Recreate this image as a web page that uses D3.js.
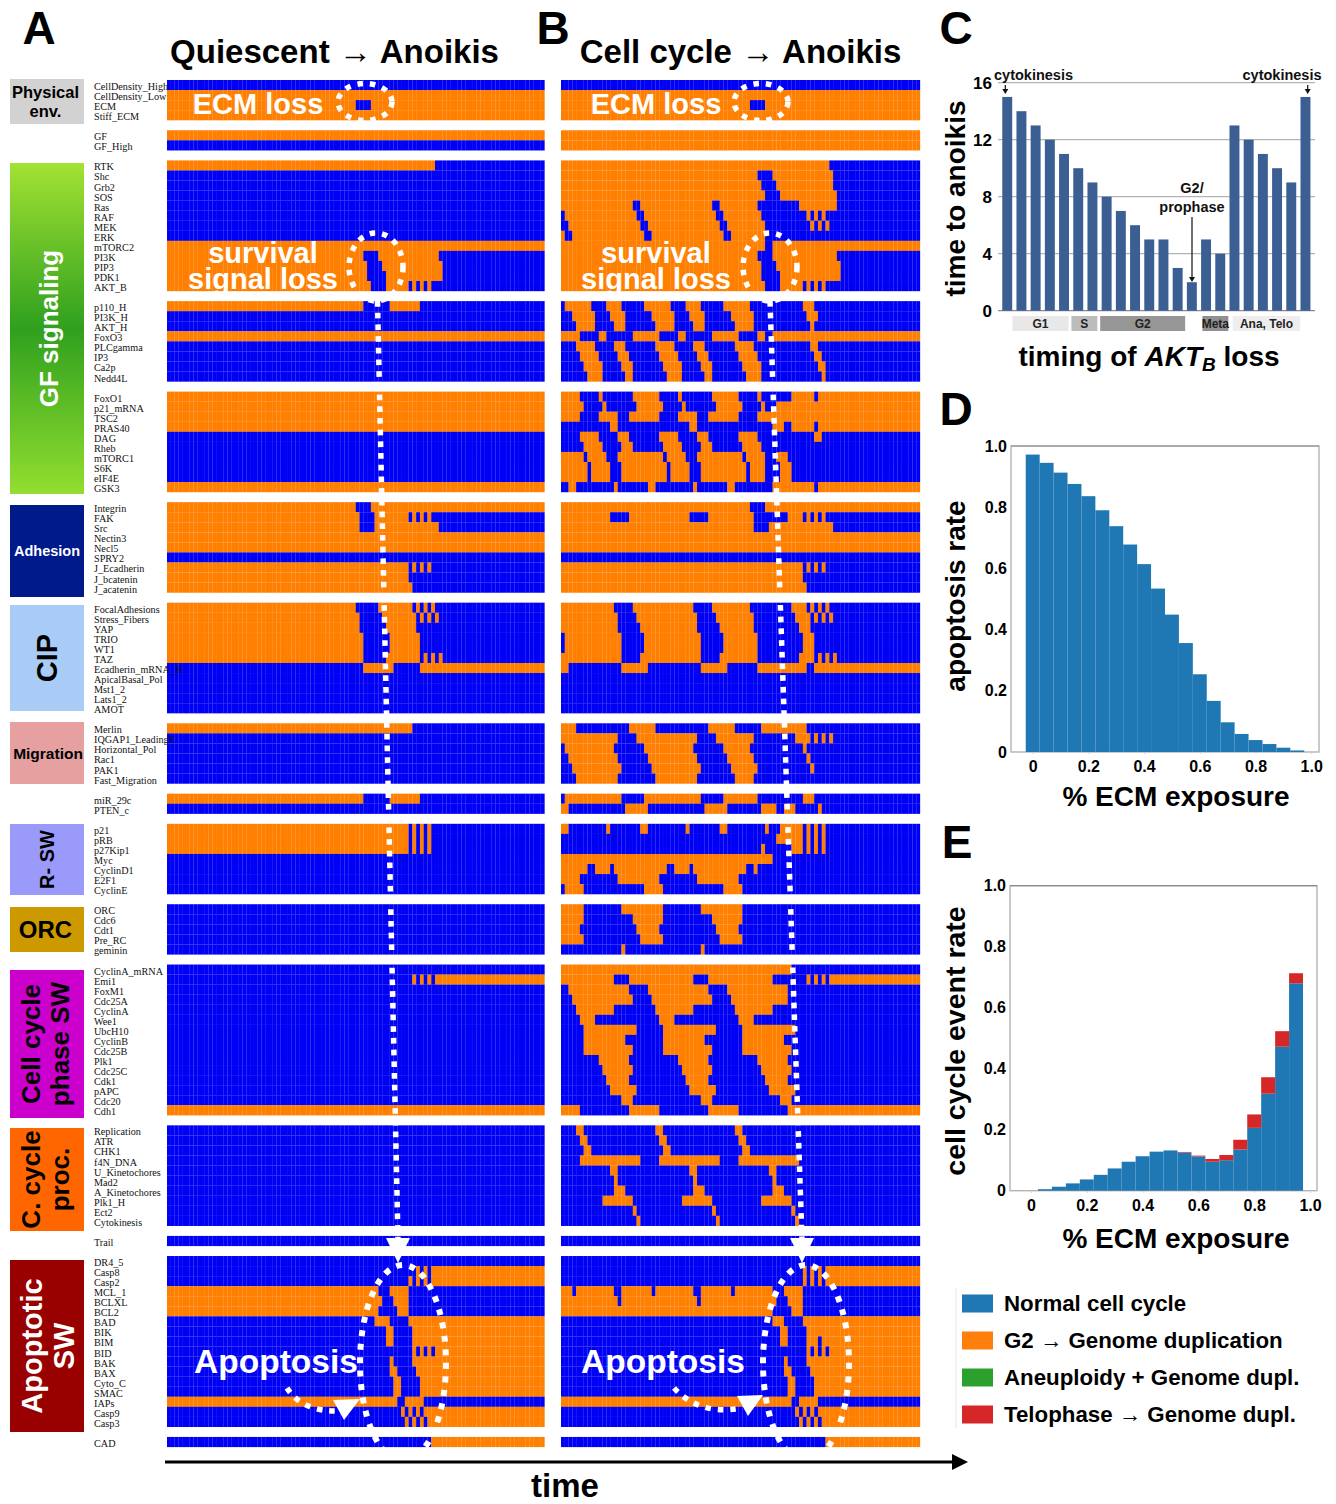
<!DOCTYPE html>
<html>
<head>
<meta charset="utf-8">
<script src="https://cdn.jsdelivr.net/npm/d3@7"></script>
<style>
  html, body { margin: 0; background: #fff; }
  text { font-family: "Liberation Sans", Arial, sans-serif; }
  .node { font-family: "Liberation Serif", serif; font-size: 10.2px; fill: #111; }
  .heavy { font-weight: bold; }
  .tick text { font-family: "Liberation Sans", sans-serif; font-weight: bold; }
</style>
</head>
<body>
<div id="chart"></div>
<script>
// node names, one list per heatmap block
const physicalNodes = ['CellDensity_High', 'CellDensity_Low', 'ECM', 'Stiff_ECM'];
const gfNodes = ['GF', 'GF_High'];
const rtkNodes = ['RTK', 'Shc', 'Grb2', 'SOS', 'Ras', 'RAF', 'MEK', 'ERK', 'mTORC2', 'PI3K', 'PIP3', 'PDK1', 'AKT_B'];
const hNodes = ['p110_H', 'PI3K_H', 'AKT_H', 'FoxO3', 'PLCgamma', 'IP3', 'Ca2p', 'Nedd4L'];
const foxNodes = ['FoxO1', 'p21_mRNA', 'TSC2', 'PRAS40', 'DAG', 'Rheb', 'mTORC1', 'S6K', 'eIF4E', 'GSK3'];
const adhesionNodes = ['Integrin', 'FAK', 'Src', 'Nectin3', 'Necl5', 'SPRY2', 'J_Ecadherin', 'J_bcatenin', 'J_acatenin'];
const cipNodes = ['FocalAdhesions', 'Stress_Fibers', 'YAP', 'TRIO', 'WT1', 'TAZ', 'Ecadherin_mRNA_H', 'ApicalBasal_Pol', 'Mst1_2', 'Lats1_2', 'AMOT'];
const migrationNodes = ['Merlin', 'IQGAP1_LeadingE', 'Horizontal_Pol', 'Rac1', 'PAK1', 'Fast_Migration'];
const mirNodes = ['miR_29c', 'PTEN_c'];
const rNodes = ['p21', 'pRB', 'p27Kip1', 'Myc', 'CyclinD1', 'E2F1', 'CyclinE'];
const orcNodes = ['ORC', 'Cdc6', 'Cdt1', 'Pre_RC', 'geminin'];
const cycleNodes = ['CyclinA_mRNA', 'Emi1', 'FoxM1', 'Cdc25A', 'CyclinA', 'Wee1', 'UbcH10', 'CyclinB', 'Cdc25B', 'Plk1', 'Cdc25C', 'Cdk1', 'pAPC', 'Cdc20', 'Cdh1'];
const procNodes = ['Replication', 'ATR', 'CHK1', 'f4N_DNA', 'U_Kinetochores', 'Mad2', 'A_Kinetochores', 'Plk1_H', 'Ect2', 'Cytokinesis'];
const trailNodes = ['Trail'];
const apoptoticNodes = ['DR4_5', 'Casp8', 'Casp2', 'MCL_1', 'BCLXL', 'BCL2', 'BAD', 'BIK', 'BIM', 'BID', 'BAK', 'BAX', 'Cyto_C', 'SMAC', 'IAPs', 'Casp9', 'Casp3'];
const cadNodes = ['CAD'];
const nodeBlocks = [physicalNodes, gfNodes, rtkNodes, hNodes, foxNodes, adhesionNodes, cipNodes, migrationNodes, mirNodes, rNodes, orcNodes, cycleNodes, procNodes, trailNodes, apoptoticNodes, cadNodes];

// ON (orange) runs per node as start,end,start,end... in time steps, empty = OFF the whole time
const A = [0, 100];
const aPhysical = [[], A, [0, 50, 54, 100], A];
const aGf = [A, []];
const aRtk = [[0, 71], [], [], [], [], [], [], [], A, [0, 52, 56, 72], [0, 53, 57, 73], [0, 53, 58, 73], [0, 54, 58, 64, 65, 66, 67, 68, 69, 70]];
const aH = [[0, 52, 59, 67], [], [], A, [], [], [], []];
const aFox = [A, A, A, A, [], [], [], [], [], A];
const aAdhesion = [[0, 50, 54, 100], [0, 51, 55, 64, 65, 66, 67, 68, 69, 70], [0, 51, 55, 72], A, A, [], [0, 64, 65, 66, 67, 68, 69, 70], [0, 64], [0, 65]];
const aCip = [[0, 50, 56, 65, 66, 67, 68, 69, 70, 71], [0, 51, 57, 66, 67, 68, 69, 70, 71, 72], [0, 51, 58, 66], [0, 52, 59, 67], [0, 52, 59, 67], [0, 52, 58, 67, 68, 69, 70, 71, 72, 73], [52, 60, 67, 100], [], [], [], []];
const aMigration = [[0, 65], [], [], [], [], []];
const aMir = [[0, 52, 59, 67], []];
const aR = [[0, 64, 65, 66, 67, 68, 69, 70], [0, 64, 65, 66, 67, 68, 69, 70], [0, 64, 65, 66, 67, 68, 69, 70], [], [], [], []];
const aOrc = [[], [], [], [], []];
const aCycle = [[], [65, 66, 67, 68, 69, 70, 71, 100], [], [], [], [], [], [], [], [], [], [], [], [], A];
const aProc = [[], [], [], [], [], [], [], [], [], []];
const aTrail = [[]];
const aApoptotic = [[], [66, 67, 68, 69, 70, 100], [64, 65, 66, 67, 68, 69, 70, 100], [0, 56, 59, 64], [0, 57, 60, 64], [0, 56, 61, 64], [55, 59, 64, 100], [58, 60, 65, 100], [58, 60, 65, 100], [65, 66, 67, 68, 69, 70, 71, 100], [59, 60, 65, 100], [59, 61, 66, 100], [60, 62, 67, 100], [60, 62, 67, 100], [0, 61, 63, 68], [62, 63, 64, 65, 66, 67, 68, 100], [63, 64, 65, 66, 67, 68, 69, 100]];
const aCad = [[70, 100]];
const panelARows = [aPhysical, aGf, aRtk, aH, aFox, aAdhesion, aCip, aMigration, aMir, aR, aOrc, aCycle, aProc, aTrail, aApoptotic, aCad];

const B = [0, 95];
const bPhysical = [[], B, [0, 50, 54, 95], B];
const bGf = [B, B];
const bRtk = [[0, 71], [0, 52, 56, 72], [0, 53, 57, 72], [0, 54, 58, 73], [0, 19, 21, 40, 42, 52, 63, 73], [1, 20, 22, 41, 43, 53, 65, 66, 67, 68, 69, 70], [2, 21, 23, 42, 44, 54, 66, 67, 68, 69, 70, 71], [0, 1, 3, 22, 24, 43, 45, 54], [0, 54, 56, 95], [0, 52, 56, 73], [0, 53, 57, 74], [0, 53, 58, 74], [0, 54, 58, 64, 65, 66, 67, 68, 69, 70]];
const bH = [
  [1, 8, 12, 16, 22, 29, 33, 37, 43, 50, 64, 67],
  [3, 9, 13, 17, 24, 30, 34, 38, 45, 51, 65, 68],
  [4, 9, 14, 17, 25, 30, 35, 38, 46, 51, 66, 67],
  [0, 5, 10, 12, 19, 26, 31, 33, 40, 47, 52, 54, 56, 95],
  [4, 9, 14, 17, 25, 30, 35, 38, 46, 51, 66, 68],
  [5, 10, 15, 18, 26, 31, 36, 39, 47, 52, 67, 69],
  [6, 11, 16, 19, 27, 32, 37, 40, 48, 53, 68, 70],
  [7, 11, 17, 19, 28, 32, 38, 40, 49, 53, 69, 70]];
const bFox = [
  [0, 5, 10, 11, 19, 26, 31, 32, 40, 47, 52, 53, 61, 67, 68, 95],
  [0, 6, 11, 12, 20, 27, 32, 33, 41, 48, 53, 54, 57, 95],
  [0, 5, 10, 15, 18, 26, 31, 36, 39, 47, 52, 95],
  [13, 15, 34, 36, 56, 59, 61, 67, 68, 95],
  [5, 10, 15, 18, 26, 31, 36, 39, 47, 52, 67, 69],
  [6, 11, 16, 19, 27, 32, 37, 40, 48, 53],
  [0, 6, 7, 12, 15, 27, 28, 33, 36, 48, 49, 54, 57, 60],
  [0, 7, 8, 13, 16, 28, 29, 34, 37, 49, 50, 54, 58, 61],
  [0, 7, 8, 13, 16, 28, 29, 34, 37, 49, 50, 54, 58, 61],
  [2, 4, 14, 15, 23, 25, 35, 36, 44, 46, 56, 67, 68, 95]];
const bAdhesion = [[0, 50, 54, 95], [0, 13, 18, 34, 39, 51, 60, 64, 65, 66, 67, 68, 69, 70], [0, 51, 55, 72], B, B, [], [0, 64, 65, 66, 67, 68, 69, 70], [0, 64], [0, 65]];
const bCip = [
  [0, 14, 19, 35, 40, 50, 61, 65, 66, 67, 68, 69, 70, 71],
  [0, 15, 20, 36, 41, 51, 62, 66, 67, 68, 69, 70, 71, 72],
  [0, 15, 21, 36, 42, 51, 63, 66],
  [1, 16, 22, 37, 43, 52, 64, 67],
  [1, 16, 22, 37, 43, 52, 64, 67],
  [0, 16, 21, 37, 42, 52, 63, 67, 68, 69, 70, 71, 72, 73],
  [0, 2, 16, 23, 37, 44, 52, 65, 67, 95],
  [], [], [], []];
const bMigration = [
  [0, 4, 18, 25, 39, 46, 53, 65],
  [0, 15, 20, 36, 41, 51, 62, 66, 67, 68, 69, 70, 71, 72],
  [1, 14, 22, 35, 43, 50, 64, 65],
  [2, 15, 23, 36, 44, 51, 65, 66],
  [3, 16, 24, 37, 45, 52, 66, 67],
  [4, 15, 25, 36, 46, 51]];
const bMir = [[1, 16, 22, 37, 43, 52, 64, 67], [0, 2, 17, 23, 38, 44, 53, 57, 59, 62, 68, 69]];
const bR = [
  [0, 2, 12, 13, 21, 23, 33, 34, 42, 44, 54, 55, 58, 64, 65, 66, 67, 68, 69, 70],
  [57, 64, 65, 66, 67, 68, 69, 70],
  [53, 54, 61, 64, 65, 66, 67, 68, 69, 70],
  [0, 56],
  [0, 7, 9, 13, 14, 28, 30, 34, 35, 49, 51, 52],
  [0, 5, 15, 26, 36, 47],
  [1, 6, 22, 27, 43, 48]];
const bOrc = [[0, 6, 16, 27, 37, 48], [0, 6, 19, 27, 40, 48], [0, 5, 20, 26, 41, 47], [0, 6, 21, 27, 42, 48], [16, 17, 37, 38]];
const bCycle = [
  [0, 61],
  [0, 14, 18, 35, 39, 56, 65, 66, 67, 68, 69, 70, 71, 95],
  [2, 18, 23, 39, 44, 60],
  [3, 19, 24, 40, 45, 60],
  [4, 14, 25, 35, 46, 56],
  [5, 9, 26, 30, 47, 51],
  [6, 20, 27, 41, 48, 62],
  [6, 17, 27, 38, 48, 59],
  [6, 19, 27, 40, 48, 61],
  [10, 18, 31, 39, 52, 60],
  [11, 19, 32, 40, 53, 61],
  [12, 18, 33, 39, 54, 60],
  [13, 20, 34, 41, 55, 62],
  [16, 19, 37, 40, 58, 61],
  [0, 5, 18, 26, 39, 47, 60, 95]];
const bProc = [
  [4, 6, 25, 27, 46, 48],
  [5, 7, 26, 28, 47, 49],
  [6, 8, 27, 29, 48, 50],
  [5, 21, 26, 42, 47, 63],
  [13, 15, 34, 36, 55, 57],
  [14, 15, 35, 36, 56, 57],
  [14, 17, 35, 38, 56, 59],
  [11, 19, 32, 40, 53, 61],
  [19, 20, 40, 41, 61, 62],
  [20, 21, 41, 42, 62, 63]];
const bTrail = [[]];
const bApoptotic = [
  [],
  [64, 65, 66, 67, 68, 69, 70, 95],
  [64, 65, 66, 67, 68, 69, 70, 95],
  [0, 3, 4, 14, 16, 24, 25, 35, 37, 45, 46, 56, 59, 64],
  [0, 15, 16, 36, 37, 57, 60, 64],
  [0, 56, 61, 64],
  [56, 59, 64, 95],
  [58, 60, 65, 95],
  [58, 60, 65, 68, 69, 95],
  [65, 66, 67, 68, 69, 70, 71, 95],
  [59, 60, 65, 95],
  [59, 61, 66, 95],
  [60, 62, 67, 95],
  [60, 62, 67, 95],
  [0, 61, 63, 68],
  [62, 63, 64, 65, 66, 67, 68, 95],
  [63, 64, 65, 66, 67, 68, 69, 95]];
const bCad = [[70, 95]];
const panelBRows = [bPhysical, bGf, bRtk, bH, bFox, bAdhesion, bCip, bMigration, bMir, bR, bOrc, bCycle, bProc, bTrail, bApoptotic, bCad];

// panel C
const aktValues = [15, 14, 13, 12, 11, 10, 9, 8, 7, 6, 5, 5, 3, 2, 5, 4, 13, 12, 11, 10, 9, 15];
const aktTicks = [0, 4, 8, 12, 16];
const phaseNames = ['G1', 'S', 'G2', 'Meta', 'Ana, Telo'];
const phaseFrom = [1, 5.1, 7.1, 14.2, 16.3];
const phaseTo = [4.9, 6.9, 13, 16, 21];
const phaseFill = ['#e8e8e8', '#bcbcbc', '#969696', '#909090', '#eeeeee'];

// panels D and E share the ECM bins
const ecmBins = [0, .05, .1, .15, .2, .25, .3, .35, .4, .45, .5, .55, .6, .65, .7, .75, .8, .85, .9, .95];
const apoptosisRate = [.972, .945, .913, .876, .836, .79, .738, .678, .614, .534, .449, .356, .254, .167, .097, .059, .039, .026, .014, .005];
const normalCycleRate = [0, .005, .013, .024, .037, .052, .073, .095, .113, .128, .132, .125, .112, .095, .1, .135, .206, .318, .472, .68];
const telophaseRate = [0, 0, 0, 0, 0, 0, 0, 0, 0, 0, 0, .002, .003, .009, .017, .032, .044, .054, .051, .033];
const ecmTicks = [0, .2, .4, .6, .8, 1];
const rateTicks = [0, .2, .4, .6, .8, 1];

const legendLabels = ['Normal cell cycle', 'G2 \u2192 Genome duplication', 'Aneuploidy + Genome dupl.', 'Telophase \u2192 Genome dupl.'];
const legendColors = ['#1f77b4', '#ff7f0e', '#2ca02c', '#d62728'];

const w = 1336;
const h = 1504;
const offColor = '#0000f5';
const onColor = '#ff7f00';
const svg = d3.select('#chart').append('svg').attr('width', w).attr('height', h).style('display', 'block');

// one shared row scale, a blank row between blocks
const rowKeys = [];
nodeBlocks.forEach((nodes, b) => {
    nodes.forEach(n => rowKeys.push(b + ':' + n));
    if (b < nodeBlocks.length - 1) rowKeys.push('gap' + b);
});
const yRow = d3.scaleBand().domain(rowKeys).range([80, 1447]);

const defs = svg.append('defs');
const gfGrad = defs.append('linearGradient').attr('id', 'gfGrad').attr('x1', 0).attr('x2', 0).attr('y1', 0).attr('y2', 1);
gfGrad.append('stop').attr('offset', '0%').attr('stop-color', '#a3e233');
gfGrad.append('stop').attr('offset', '50%').attr('stop-color', '#2fa01e');
gfGrad.append('stop').attr('offset', '100%').attr('stop-color', '#93de30');

function drawHeatmap(rowsByBlock, steps, x0, x1) {
    const xStep = d3.scaleBand().domain(d3.range(steps)).range([x0, x1]);
    const cells = [];
    nodeBlocks.forEach((nodes, b) => {
        nodes.forEach((n, r) => {
            const runs = rowsByBlock[b][r];
            for (let t = 0; t < steps; t++) {
                let on = false;
                for (let k = 0; k < runs.length; k += 2) {
                    if (t >= runs[k] && t < runs[k + 1]) on = true;
                }
                cells.push({ key: b + ':' + n, t: t, on: on });
            }
        });
    });
    // a hair wider than the band, so the seams between cells stay faint
    svg.append('g').selectAll('rect')
        .data(cells)
        .enter()
        .append('rect')
        .attr('x', d => xStep(d.t))
        .attr('y', d => yRow(d.key))
        .attr('width', xStep.bandwidth() + .15)
        .attr('height', yRow.bandwidth() + .1)
        .attr('fill', d => d.on ? onColor : offColor);
}
drawHeatmap(panelARows, 100, 167, 544.5);
drawHeatmap(panelBRows, 95, 561, 920);

// node labels
nodeBlocks.forEach((nodes, b) => {
    svg.append('g').selectAll('text')
        .data(nodes)
        .enter()
        .append('text')
        .attr('class', 'node')
        .attr('x', 94)
        .attr('y', n => yRow(b + ':' + n) + yRow.bandwidth() / 2 + 5)
        .text(n => n);
});

// category boxes on the far left
const catBoxes = [
    { y0: 79, y1: 124, fill: '#d2d2d2', color: '#000', size: 16.5, cx: 45.5, lines: ['Physical', 'env.'] },
    { y0: 163, y1: 494, fill: 'url(#gfGrad)', color: '#fff', size: 26, cx: 49, lines: ['GF signaling'], rot: true },
    { y0: 505, y1: 597, fill: '#001a8c', color: '#fff', size: 14.5, cx: 47, lines: ['Adhesion'] },
    { y0: 605, y1: 711, fill: '#a8ccf5', color: '#000', size: 29, cx: 47, lines: ['CIP'], rot: true },
    { y0: 722, y1: 784, fill: '#e6a0a0', color: '#000', size: 15.5, cx: 48, lines: ['Migration'] },
    { y0: 824, y1: 895, fill: '#9a9afa', color: '#000', size: 20, cx: 47, lines: ['R- SW'], rot: true },
    { y0: 907, y1: 952, fill: '#cc9900', color: '#000', size: 24, cx: 45.5, lines: ['ORC'] },
    { y0: 970, y1: 1118, fill: '#cc00cc', color: '#000', size: 26, cx: 45.5, lines: ['Cell cycle', 'phase SW'], rot: true },
    { y0: 1128, y1: 1231, fill: '#ff6600', color: '#000', size: 26, cx: 45.5, lines: ['C. cycle', 'proc.'], rot: true },
    { y0: 1260, y1: 1432, fill: '#990000', color: '#fff', size: 29, cx: 47.5, lines: ['Apoptotic', 'SW'], rot: true }
];
catBoxes.forEach(c => {
    svg.append('rect').attr('x', 10).attr('y', c.y0).attr('width', 74).attr('height', c.y1 - c.y0).attr('fill', c.fill);
    const g = svg.append('g').attr('transform', 'translate(' + c.cx + ',' + (c.y0 + c.y1) / 2 + ')' + (c.rot ? ' rotate(-90)' : ''));
    const lh = c.size * 1.12;
    c.lines.forEach((l, i) => {
        g.append('text')
            .attr('class', 'heavy')
            .attr('text-anchor', 'middle')
            .attr('y', (i - (c.lines.length - 1) / 2) * lh + c.size * .36)
            .attr('font-size', c.size)
            .attr('fill', c.color)
            .text(l);
    });
});

function label(x, y, str, size, color, anchor) {
    return svg.append('text')
        .attr('class', 'heavy')
        .attr('x', x).attr('y', y)
        .attr('font-size', size)
        .attr('fill', color || '#000')
        .attr('text-anchor', anchor || 'middle')
        .text(str);
}
function rotLabel(x, y, str, size) {
    return label(0, 0, str, size).attr('transform', 'translate(' + x + ',' + y + ') rotate(-90)');
}

// panel letters and titles
[['A', 39, 44], ['B', 553, 44], ['C', 956, 44], ['D', 956, 425], ['E', 957, 858]].forEach(d => {
    label(d[1], d[2], d[0], 46);
});
label(334.5, 63, 'Quiescent \u2192 Anoikis', 33);
label(740.5, 63, 'Cell cycle \u2192 Anoikis', 33);

// overlays on the heatmaps
const overlay = svg.append('g');
const clip = defs.append('clipPath').attr('id', 'apClip');
clip.append('rect').attr('x', 0).attr('y', 1240).attr('width', w).attr('height', 208);

function dotted(sel, width, dash) {
    return sel.attr('fill', 'none').attr('stroke', '#fff').attr('stroke-width', width).attr('stroke-dasharray', dash);
}
[
    { ecm: 365, sur: 376, text: 258, sx: 263, lx0: 377.5, ly0: 301, lx1: 398, tip: 398, ap: 403, apText: 276,
      curve: 'M287,1388 Q302,1412 340,1411', tri: '333,1400 360,1399 344,1420' },
    { ecm: 761, sur: 770, text: 656, sx: 656, lx0: 770, ly0: 301, lx1: 802, tip: 802, ap: 806, apText: 663,
      curve: 'M674,1388 Q700,1416 742,1408', tri: '737,1396 763,1395 748,1416' }
].forEach(p => {
    dotted(overlay.append('ellipse').attr('cx', p.ecm).attr('cy', 102).attr('rx', 27).attr('ry', 18.5), 5.5, '5.5 7');
    dotted(overlay.append('ellipse').attr('cx', p.sur).attr('cy', 267).attr('rx', 27).attr('ry', 34), 5.5, '5.5 7');
    dotted(overlay.append('line').attr('x1', p.lx0).attr('y1', p.ly0).attr('x2', p.lx1).attr('y2', 1240), 5.5, '5.7 6');
    overlay.append('polygon').attr('fill', '#fff')
        .attr('points', [[p.tip - 12, 1238], [p.tip + 12, 1238], [p.tip, 1263]].join(' '));
    dotted(overlay.append('ellipse').attr('cx', p.ap).attr('cy', 1363).attr('rx', 43).attr('ry', 98), 6, '6 7.5').attr('clip-path', 'url(#apClip)');
    dotted(overlay.append('path').attr('d', p.curve), 5.5, '5.5 7');
    overlay.append('polygon').attr('fill', '#fff').attr('points', p.tri);
    label(p.text, 114, 'ECM loss', 29, '#fff');
    // the two lines sit tight, so one text with two tspans
    const survival = label(p.sx, 263, '', 29, '#fff');
    survival.append('tspan').attr('x', p.sx).attr('y', 263).text('survival');
    survival.append('tspan').attr('x', p.sx).attr('y', 288.5).text('signal loss');
    label(p.apText, 1373, 'Apoptosis', 33.5, '#fff');
});

// time arrow
svg.append('line').attr('x1', 165).attr('x2', 956).attr('y1', 1462).attr('y2', 1462).attr('stroke', '#000').attr('stroke-width', 3);
svg.append('polygon').attr('points', '952,1454 968,1462 952,1470').attr('fill', '#000');
label(565, 1497, 'time', 33);

// ---- panel C ----
const xAkt = d3.scaleBand().domain(d3.range(aktValues.length)).range([998, 1314.7]).padding(.3);
const xPhase = d3.scaleLinear().domain([0, aktValues.length]).range([998, 1314.7]);
const yAkt = d3.scaleLinear().domain([0, 16]).range([310.7, 82.7]);
svg.append('g').attr('transform', 'translate(998,0)')
    .call(d3.axisLeft(yAkt).tickValues(aktTicks).tickSize(0).tickPadding(6))
    .call(g => g.select('.domain').remove())
    .call(g => g.selectAll('text').attr('font-size', 17));
svg.append('g').selectAll('line')
    .data(aktTicks)
    .enter()
    .append('line')
    .attr('x1', 998).attr('x2', 1315)
    .attr('y1', d => yAkt(d)).attr('y2', d => yAkt(d))
    .attr('stroke', d => d === 0 ? '#8a8a8a' : '#b4b4b4')
    .attr('stroke-width', 1.2);
svg.append('g').selectAll('rect')
    .data(aktValues)
    .enter()
    .append('rect')
    .attr('x', (d, i) => xAkt(i))
    .attr('y', d => yAkt(d))
    .attr('width', xAkt.bandwidth())
    .attr('height', d => yAkt(0) - yAkt(d))
    .attr('fill', '#3c5f93');
phaseNames.forEach((p, i) => {
    svg.append('rect').attr('x', xPhase(phaseFrom[i])).attr('y', 316).attr('width', xPhase(phaseTo[i]) - xPhase(phaseFrom[i])).attr('height', 15).attr('fill', phaseFill[i]);
    label((xPhase(phaseFrom[i]) + xPhase(phaseTo[i])) / 2, 328, p, 12, '#222');
});
label(1033.5, 80, 'cytokinesis', 14.5, '#111');
label(1282, 80, 'cytokinesis', 14.5, '#111');
label(1192, 193, 'G2/', 14.5, '#111');
label(1192, 212, 'prophase', 14.5, '#111');
function smallArrow(x, y0, y1) {
    svg.append('line').attr('x1', x).attr('x2', x).attr('y1', y0).attr('y2', y1 - 4).attr('stroke', '#111').attr('stroke-width', 1.2);
    svg.append('polygon').attr('points', [[x - 3, y1 - 5], [x + 3, y1 - 5], [x, y1]].join(' ')).attr('fill', '#111');
}
smallArrow(1005.3, 85, 94);
smallArrow(1307.7, 85, 94);
smallArrow(1192, 217, 282);
rotLabel(965, 198.5, 'time to anoikis', 28);
const aktTitle = label(1149, 366, 'timing of ', 28);
aktTitle.append('tspan').attr('font-style', 'italic').text('AKT');
aktTitle.append('tspan').attr('font-style', 'italic').attr('font-size', 19).attr('dy', 5).text('B');
aktTitle.append('tspan').attr('dy', -5).text(' loss');

// ---- panels D and E ----
function frame(x0, x1, y0, y1) {
    svg.append('rect').attr('x', x0).attr('y', y0).attr('width', x1 - x0).attr('height', y1 - y0)
        .attr('fill', 'none').attr('stroke', '#b4b4b4').attr('stroke-width', 1.4);
    svg.append('line').attr('x1', x0).attr('x2', x1).attr('y1', y0).attr('y2', y0).attr('stroke', '#8c8c8c').attr('stroke-width', 1.2);
}
const fmt = d => d === 0 ? '0' : d.toFixed(1);
function rateAxes(xScale, yScale, x0, y1) {
    svg.append('g').attr('transform', 'translate(0,' + y1 + ')')
        .call(d3.axisBottom(xScale).tickValues(ecmTicks).tickFormat(fmt).tickSize(2).tickPadding(7))
        .call(g => g.select('.domain').remove())
        .call(g => g.selectAll('line').attr('stroke', '#ccc'))
        .call(g => g.selectAll('text').attr('font-size', 16));
    svg.append('g').attr('transform', 'translate(' + x0 + ',0)')
        .call(d3.axisLeft(yScale).tickValues(rateTicks).tickFormat(fmt).tickSize(0).tickPadding(4))
        .call(g => g.select('.domain').remove())
        .call(g => g.selectAll('text').attr('font-size', 16));
}
const xD = d3.scaleLinear().domain([0, 1]).range([1032.7, 1311.2]);
const yD = d3.scaleLinear().domain([0, 1]).range([752, 446]);
frame(1011, 1319, 446, 752);
rateAxes(xD, yD, 1011, 752);
svg.append('g').selectAll('rect')
    .data(ecmBins)
    .enter()
    .append('rect')
    .attr('x', d => xD(d - .025))
    .attr('y', (d, i) => yD(apoptosisRate[i]))
    .attr('width', xD(.05) - xD(0))
    .attr('height', (d, i) => yD(0) - yD(apoptosisRate[i]))
    .attr('fill', '#1f77b4');
rotLabel(965, 596, 'apoptosis rate', 28);
label(1176, 806, '% ECM exposure', 28);

const xE = d3.scaleLinear().domain([0, 1]).range([1031, 1310]);
const yE = d3.scaleLinear().domain([0, 1]).range([1190.7, 885.7]);
frame(1010, 1317, 885.7, 1190.7);
rateAxes(xE, yE, 1010, 1190.7);
const eStack = d3.stack().keys(['normal', 'telophase'])(ecmBins.map((b, i) => ({ bin: b, normal: normalCycleRate[i], telophase: telophaseRate[i] })));
svg.append('g').selectAll('g')
    .data(eStack)
    .enter()
    .append('g')
    .attr('fill', d => d.key === 'normal' ? '#1f77b4' : '#d62728')
    .selectAll('rect')
    .data(d => d)
    .enter()
    .append('rect')
    .attr('x', d => xE(d.data.bin - .025))
    .attr('y', d => yE(d[1]))
    .attr('width', xE(.05) - xE(0))
    .attr('height', d => yE(d[0]) - yE(d[1]));
rotLabel(965, 1041, 'cell cycle event rate', 28.5);
label(1176, 1248, '% ECM exposure', 28);

// legend
svg.append('line').attr('x1', 956).attr('x2', 956).attr('y1', 1288).attr('y2', 1428).attr('stroke', '#e6e6e6');
const legendY = d3.scalePoint().domain(legendLabels).range([1303.5, 1414.5]);
legendLabels.forEach((l, i) => {
    svg.append('rect').attr('x', 962).attr('y', legendY(l) - 9).attr('width', 31).attr('height', 18).attr('fill', legendColors[i]);
    label(1004, legendY(l) + 7.5, l, 22.3, '#000', 'start');
});
</script>
</body>
</html>
